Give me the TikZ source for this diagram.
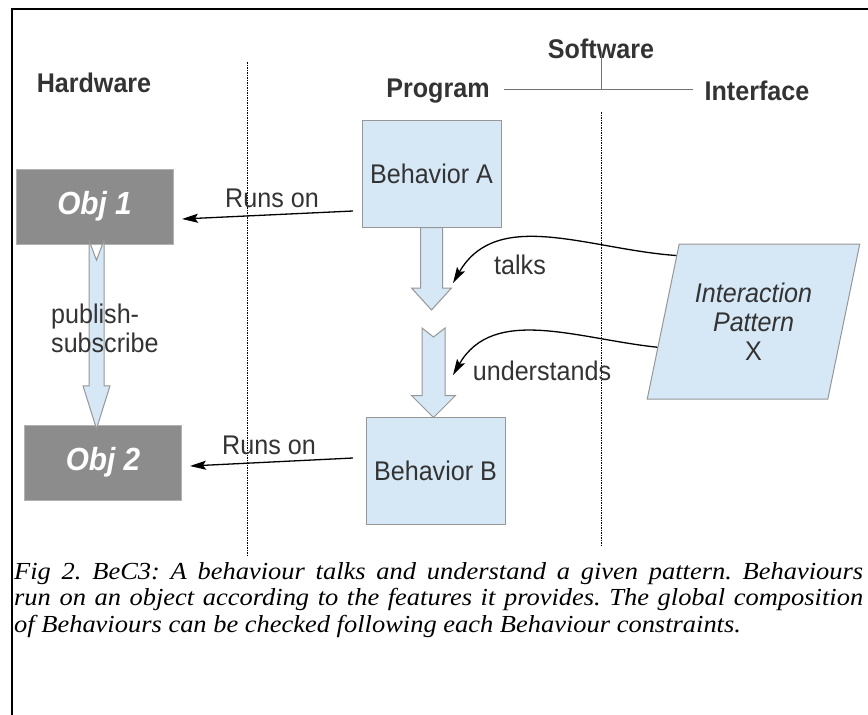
\documentclass[tikz,border=0pt]{standalone}
\usepackage{fontspec}
\setmainfont{Liberation Serif}[FakeStretch=1.08]
\setsansfont{Liberation Sans}[FakeStretch=0.93]
\usepackage{xcolor}
\usetikzlibrary{shapes.geometric,calc,arrows.meta}
\definecolor{boxblue}{RGB}{214,232,246}
\definecolor{boxgray}{RGB}{140,140,140}
\definecolor{txtgray}{RGB}{51,51,51}
\definecolor{edgegray}{RGB}{150,150,150}
\newcommand{\labfont}{\sffamily\fontsize{27}{29}\selectfont}
\newcommand{\headfont}{\sffamily\bfseries\fontsize{27}{30}\selectfont}
% block arrow: from, to, half shaft, half head, head length, notch
\newcommand{\fatarrow}[6]{%
	\draw[fatarr] let \p1=#1, \p2=#2 in
		(\x1-#3pt,\y1) -- (\x1,\y1-#6pt) -- (\x1+#3pt,\y1) -- (\x1+#3pt,\y2+#5pt)
		-- (\x1+#4pt,\y2+#5pt) -- (\x1,\y2) -- (\x1-#4pt,\y2+#5pt)
		-- (\x1-#3pt,\y2+#5pt) -- cycle;}
\tikzset{
	objbox/.style={fill=boxgray,draw=black!30,minimum width=157pt,minimum height=75pt,
		inner sep=0pt,text=white,font=\sffamily\bfseries\itshape\fontsize{32}{36}\selectfont},
	behbox/.style={fill=boxblue,draw=edgegray,line width=1pt,minimum width=139pt,
		minimum height=107pt,inner sep=0pt,text=txtgray,font=\labfont},
	lbl/.style={text=txtgray,font=\labfont,inner sep=0pt},
	head/.style={text=txtgray,font=\headfont,inner sep=0pt},
	fatarr/.style={fill=boxblue,draw=edgegray,line width=1pt,line join=miter},
	thinarr/.style={->,line width=1.3pt,black},
	sepline/.style={line width=0.8pt,dash pattern=on 1.5pt off 1pt},
	hdrline/.style={line width=0.8pt,black!55}
}
\begin{document}
\frenchspacing
\begin{tikzpicture}[x=1pt,y=-1pt,>={Stealth[length=16pt,width=9pt,inset=3pt]}]
	\useasboundingbox (0,0) rectangle (868,715);
	
	\coordinate (tipA) at (182,219);   % runs on, ends
	\coordinate (srcA) at (353,211);
	\coordinate (tipB) at (190,466);
	\coordinate (srcB) at (353,458);
	\coordinate (talkend) at (432,310); % gap between the fat arrows
	\coordinate (undstart) at (433.5,328);
	\coordinate (talktip) at (453,283);
	\coordinate (undtip) at (453,375);
	\coordinate (hub) at (601,89);
	
	% frame and columns
	\draw[line width=1.2pt] (12,715) -- (12,9) -- (868,9);
	\draw[sepline] (247,62) -- (247,555);
	\draw[sepline] (601,112) -- (601,546);
	
	\node[head] (hard) at (94,83) {Hardware};
	\node[head] (soft) at (601,49) {Software};
	\node[head] (prog) at (438,91) {Program};
	\node[head] (intf) at (757,91) {Interface};
	\draw[hdrline] ([xshift=14pt]prog.east |- hub) -- ([xshift=-11pt]intf.west |- hub)
		([yshift=7pt]soft.south) -- (hub);
	
	\node[objbox] (obj1) at (94.5,206.5) {Obj 1};
	\node[objbox] (obj2) at (103,462.5) {Obj 2};
	\node[behbox] (behA) at (431.5,173.5) {Behavior A};
	\node[behbox] (behB) at (435.5,470.5) {Behavior B};
	\node[trapezium,trapezium left angle=72,trapezium right angle=108,
		trapezium stretches=true,minimum width=213pt,minimum height=155pt,
		fill=boxblue,draw=edgegray,line width=1pt,inner sep=0pt,align=center,
		text=txtgray,font=\labfont] (pat) at (753.5,321.5)
		{\textit{Interaction}\\\textit{Pattern}\\X};
	
	\fatarrow{([xshift=2pt,yshift=4pt]obj1.south)}{([yshift=-4pt]obj2.north)}{7.5}{13.5}{43}{20}
	\fatarrow{(behA.south)}{(talkend)}{11}{20}{22}{0}
	\fatarrow{(undstart)}{([yshift=-1pt]behB.north)}{11.5}{22}{22}{9}
	
	\draw[thinarr] (srcA) -- (tipA);
	\draw[thinarr] (srcB) -- (tipB);
	\draw[thinarr] ($(pat.top left corner)!0.077!(pat.bottom left corner)$)
		to[out=176,in=60] (talktip);
	\draw[thinarr] ($(pat.top left corner)!0.665!(pat.bottom left corner)$)
		to[out=174,in=60] (undtip);
	
	\node[lbl] (run1) at (272,198) {Runs on};
	\node[lbl] (run2) at (269,445) {Runs on};
	\node[lbl] (talks) at (520,265) {talks};
	\node[lbl] (und) at (542,371) {understands};
	\node[lbl,align=left,anchor=west] (pubsub) at (51,328.5) {publish-\\subscribe};
	
	\node[anchor=north west,text width=849pt,align=justify,inner sep=0pt,
		font=\rmfamily\itshape\fontsize{24.5}{26.5}\selectfont] (cap) at (14,562)
		{Fig 2. BeC3: A behaviour talks and understand a given pattern. Behaviours\linebreak
		run on an object according to the features it provides. The global composition\linebreak
		of Behaviours can be checked following each Behaviour constraints.};
\end{tikzpicture}
\end{document}
